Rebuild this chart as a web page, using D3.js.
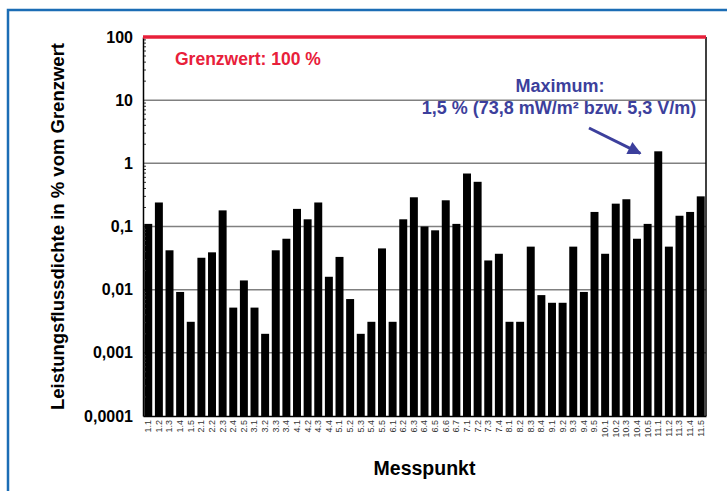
<!DOCTYPE html>
<html>
<head>
<meta charset="utf-8">
<script src="https://cdnjs.cloudflare.com/ajax/libs/d3/7.8.5/d3.min.js"></script>
<style>
  body { margin: 0; background: #fff; }
  svg { font-family: "Liberation Sans", Arial, sans-serif; }
</style>
</head>
<body>
<div id="chart"></div>
<script>
// measuring points
var points = ["1.1","1.2","1.3","1.4","1.5","2.1","2.2","2.3","2.4","2.5",
  "3.1","3.2","3.3","3.4","4.1","4.2","4.3","4.4","5.1","5.2","5.3","5.4","5.5",
  "6.1","6.2","6.3","6.4","6.5","6.6","6.7","7.1","7.2","7.3","7.4",
  "8.1","8.2","8.3","8.4","9.1","9.2","9.3","9.4","9.5",
  "10.1","10.2","10.3","10.4","10.5","11.1","11.2","11.3","11.4","11.5"];

// power flux density in % of limit
var values = [0.11, 0.24, 0.042, 0.0092, 0.0031, 0.032, 0.039, 0.18, 0.0052, 0.014,
  0.0052, 0.002, 0.042, 0.064, 0.19, 0.13, 0.24, 0.016, 0.033, 0.0071, 0.002, 0.0031, 0.045,
  0.0031, 0.13, 0.29, 0.1, 0.087, 0.26, 0.11, 0.69, 0.51, 0.029, 0.037,
  0.0031, 0.0031, 0.048, 0.0082, 0.0062, 0.0062, 0.048, 0.0092, 0.17,
  0.037, 0.23, 0.27, 0.064, 0.11, 1.55, 0.048, 0.148, 0.17, 0.3];

var yTicks = [0.0001, 0.001, 0.01, 0.1, 1, 10, 100];
var yTickLabels = ["0,0001", "0,001", "0,01", "0,1", "1", "10", "100"];
var limit = 100;

var W = 727, H = 491;
var margin = {top: 37, right: 21, bottom: 75, left: 143};
var width = W - margin.left - margin.right,
    height = H - margin.top - margin.bottom;

var svg = d3.select("#chart").append("svg")
    .attr("width", W)
    .attr("height", H);

// blue frame
svg.append("rect")
    .attr("x", 8).attr("y", 10)
    .attr("width", W + 20).attr("height", H + 20)
    .attr("fill", "none")
    .attr("stroke", "#1b6db5")
    .attr("stroke-width", 2.5);

var g = svg.append("g")
    .attr("transform", "translate(" + margin.left + "," + margin.top + ")");

var x = d3.scaleBand().domain(points).range([0, width]).paddingInner(0.25).paddingOuter(0.12);
var y = d3.scaleLog().domain([0.0001, 100]).range([height, 0]);

// grid lines
g.selectAll(".grid")
    .data(yTicks.filter(function(d) { return d > 0.0001 && d < 100; }))
  .enter().append("line")
    .attr("x1", 0).attr("x2", width)
    .attr("y1", function(d) { return y(d); })
    .attr("y2", function(d) { return y(d); })
    .attr("stroke", "#808080")
    .attr("stroke-width", 1.5);

// bars
g.selectAll(".bar")
    .data(values)
  .enter().append("rect")
    .attr("x", function(d, i) { return x(points[i]); })
    .attr("width", x.bandwidth())
    .attr("y", function(d) { return y(d); })
    .attr("height", function(d) { return height - y(d); })
    .attr("fill", "#000");

// minor ticks, inside the plot
var minor = [];
yTicks.forEach(function(t) {
  for (var k = 2; k <= 9; k++) if (t * k < 100) minor.push(t * k);
});
g.selectAll(".minor")
    .data(minor)
  .enter().append("line")
    .attr("x1", 0).attr("x2", 3)
    .attr("y1", function(d) { return y(d); })
    .attr("y2", function(d) { return y(d); })
    .attr("stroke", "#333")
    .attr("stroke-width", 1);

// y axis
var yAxis = g.append("g")
    .call(d3.axisLeft(y).tickValues(yTicks)
      .tickFormat(function(d, i) { return yTickLabels[i]; })
      .tickSize(0).tickPadding(10));
yAxis.select(".domain").attr("stroke", "#000").attr("stroke-width", 1.5);
yAxis.selectAll("text")
    .attr("font-size", 16)
    .attr("font-weight", "bold")
    .attr("fill", "#000");

// right border
g.append("line")
    .attr("x1", width).attr("x2", width)
    .attr("y1", 0).attr("y2", height)
    .attr("stroke", "#000").attr("stroke-width", 1.5);

// x axis
var xAxis = g.append("g")
    .attr("transform", "translate(0," + height + ")")
    .call(d3.axisBottom(x).tickSize(0).tickPadding(4));
xAxis.select(".domain").attr("stroke", "#000").attr("stroke-width", 1.5);
xAxis.selectAll("text")
    .attr("font-size", 9)
    .attr("fill", "#333")
    .attr("text-anchor", "end")
    .attr("dy", "0.32em")
    .attr("transform", "rotate(-90)")
    .attr("x", -4)
    .attr("y", 0);

// limit line
g.append("line")
    .attr("x1", 0).attr("x2", width)
    .attr("y1", y(limit)).attr("y2", y(limit))
    .attr("stroke", "#e8203a")
    .attr("stroke-width", 3.5);

g.append("text")
    .attr("x", 32).attr("y", 28)
    .attr("fill", "#e8203a")
    .attr("font-size", 17.5)
    .attr("font-weight", "bold")
    .text("Grenzwert: 100 %");

// maximum annotation
var maxIdx = values.indexOf(d3.max(values));
var blue = "#3c3f9c";
g.append("text")
    .attr("x", 417).attr("y", 55)
    .attr("text-anchor", "middle")
    .attr("fill", blue)
    .attr("font-size", 18)
    .attr("font-weight", "bold")
    .text("Maximum:");
g.append("text")
    .attr("x", 416).attr("y", 77)
    .attr("text-anchor", "middle")
    .attr("fill", blue)
    .attr("font-size", 18)
    .attr("font-weight", "bold")
    .text("1,5 % (73,8 mW/m² bzw. 5,3 V/m)");

svg.append("defs").append("marker")
    .attr("id", "arrow")
    .attr("viewBox", "0 0 10 10")
    .attr("refX", 9).attr("refY", 5)
    .attr("markerWidth", 5.5).attr("markerHeight", 4.5)
    .attr("orient", "auto")
    .attr("markerUnits", "strokeWidth")
  .append("path")
    .attr("d", "M0,0 L10,5 L0,10 z")
    .attr("fill", blue);

var tipX = x(points[maxIdx]) - 14, tipY = y(values[maxIdx]) + 2;
g.append("line")
    .attr("x1", 446).attr("y1", 91)
    .attr("x2", tipX).attr("y2", tipY)
    .attr("stroke", blue)
    .attr("stroke-width", 3)
    .attr("marker-end", "url(#arrow)");

// axis titles
svg.append("text")
    .attr("transform", "translate(64," + (margin.top + height / 2) + ") rotate(-90)")
    .attr("text-anchor", "middle")
    .attr("font-size", 18.5)
    .attr("font-weight", "bold")
    .text("Leistungsflussdichte in % vom Grenzwert");

svg.append("text")
    .attr("x", margin.left + width / 2)
    .attr("y", 475)
    .attr("text-anchor", "middle")
    .attr("font-size", 19.5)
    .attr("font-weight", "bold")
    .text("Messpunkt");
</script>
</body>
</html>
